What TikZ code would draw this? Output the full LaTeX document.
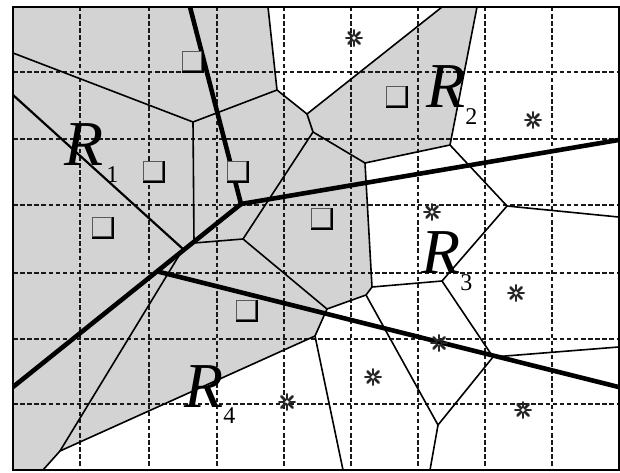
\documentclass[tikz,border=0pt]{standalone}
\usepackage{fontspec}
\setmainfont{Liberation Serif}
\usetikzlibrary{calc}
\definecolor{regiongray}{RGB}{211,211,211}
\newcommand{\subsz}{\fontsize{24}{24}\selectfont}
\begin{document}
\begin{tikzpicture}[x=1pt,y=-1pt,
  gridline/.style={line width=1.3pt, dash pattern=on 4.5pt off 2.6pt, black!90},
  vedge/.style={line width=1.6pt, line join=round},
  medline/.style={line width=2.2pt},
  thickline/.style={line width=4.6pt, line join=round},
  framebox/.style={line width=2pt},
  sqmark/.style={draw=black!65, line width=1.1pt, minimum size=18.5pt, inner sep=0pt, fill=regiongray},
  sqshadow/.style={line width=2.4pt, black, line cap=rect},
  astmark/.style={circle, minimum size=19pt, inner sep=0pt},
  astspoke/.style={line width=2.8pt, line cap=round, black!85},
  rlab/.style={anchor=base west, inner sep=0pt, font=\fontsize{64}{64}\selectfont}
]
\useasboundingbox (0,0) rectangle (620,473);
% frame corners
\coordinate (fNW) at (13,7);
\coordinate (fSE) at (618.5,470);
% Voronoi vertices
\coordinate (v1) at (193,122);
\coordinate (v2) at (277,90);
\coordinate (v3) at (307,114);
\coordinate (v4) at (313,132);
\coordinate (v5) at (365,163);
\coordinate (v6) at (450,145);
\coordinate (v7) at (507,206);
\coordinate (v8) at (442,281);
\coordinate (v9) at (372,287);
\coordinate (v10) at (366,295);
\coordinate (v11) at (327,309);
\coordinate (v12) at (315,336);
\coordinate (v13) at (60,451);
\coordinate (v14) at (183,249);
\coordinate (v15) at (194,243);
\coordinate (v16) at (243,239);
\coordinate (v17) at (493,357);
\coordinate (v18) at (438,425);
% boundary points
\coordinate (b1) at (13,53);
\coordinate (b2) at (268,7);
\coordinate (b3) at (442,7);
\coordinate (b4) at (477,7);
\coordinate (b5) at (618.5,217);
\coordinate (b6) at (618.5,347);
\coordinate (b7) at (430,470);
\coordinate (b8) at (343,470);
\coordinate (b9) at (43,470);
\coordinate (b10) at (13,95);
% thick line points
\coordinate (c) at (241,204);
\coordinate (t1) at (190,7);
\coordinate (t2) at (618.5,140);
\coordinate (t3) at (13,387);
\coordinate (p) at ($(c)!0.368!(t3)$);
\coordinate (t4) at (618.5,387);

\begin{scope}
\clip (fNW) rectangle (fSE);
% gray regions
\fill[regiongray] (13,7) -- (b2) -- (v2) -- (v3) -- (b3) -- (b4) -- (v6) -- (v5)
  -- (v9) -- (v10) -- (v11) -- (v12) -- (v13) -- (b9) -- (13,470) -- cycle;
% grid
\foreach \gx in {80,149,217,284,351,418,485,552}
  \draw[gridline] (\gx,7) -- (\gx,470);
\foreach \gy in {72,139,205,273,339,404}
  \draw[gridline] (13,\gy) -- (618.5,\gy);
% Voronoi edges
\draw[vedge] (b1) -- (v1) -- (v2) -- (b2);
\draw[vedge] (v1) -- (v15) -- (v16) -- (v4) -- (v3) -- (b3);
\draw[vedge] (v2) -- (v3);
\draw[vedge] (v4) -- (v5) -- (v6) -- (b4);
\draw[vedge] (v6) -- (v7) -- (b5);
\draw[vedge] (v7) -- (v8) -- (v17) -- (b6);
\draw[vedge] (v5) -- (v9) -- (v8);
\draw[vedge] (v9) -- (v10) -- (v11) -- (v16);
\draw[vedge] (v10) -- (v18) -- (b7);
\draw[vedge] (v17) -- (v18);
\draw[vedge] (v11) -- (v12) -- (b8);
\draw[vedge] (v12) -- (v13) -- (b9);
\draw[vedge] (v13) -- (v14);
\draw[medline] (b10) -- (v14);
% thick lines
\draw[thickline] (t1) -- (c) -- (t2);
\draw[thickline] (c) -- (t3);
\draw[thickline] (p) -- (t4);
\end{scope}
\draw[framebox] (fNW) rectangle (fSE);
% square markers
\foreach \mx/\my [count=\i] in {192/61,153/171,237/171,102/227,321/218,246/310,396/96} {
  \node[sqmark] (s\i) at (\mx,\my) {};
  \draw[sqshadow] ([shift={(1.4pt,-1.4pt)}]s\i.south west) -- ([shift={(1.4pt,-1.4pt)}]s\i.south east) -- ([shift={(1.4pt,-1.4pt)}]s\i.north east);
}
% asterisk markers
\foreach \mx/\my [count=\i] in {354/38,533/120,432/212,516/293,439/343,373/377,287/402,523/410} {
  \node[astmark] (a\i) at (\mx,\my) {};
  \foreach \ang in {0,45,...,315}
    \draw[astspoke] (a\i.center) ++(\ang:2.6pt) -- ++(\ang:5.2pt);
}
% labels
\node[rlab] (r1) at (64,165) {\textit{R}\hspace{3pt}\raisebox{-17pt}{\subsz 1}};
\node[rlab] (r2) at (426,108) {\textit{R}\raisebox{-17pt}{\subsz 2}};
\node[rlab] (r3) at (421,273) {\textit{R}\raisebox{-17pt}{\subsz 3}};
\node[rlab] (r4) at (184,407) {\textit{R}\raisebox{-16pt}{\subsz 4}};
\end{tikzpicture}
\end{document}
